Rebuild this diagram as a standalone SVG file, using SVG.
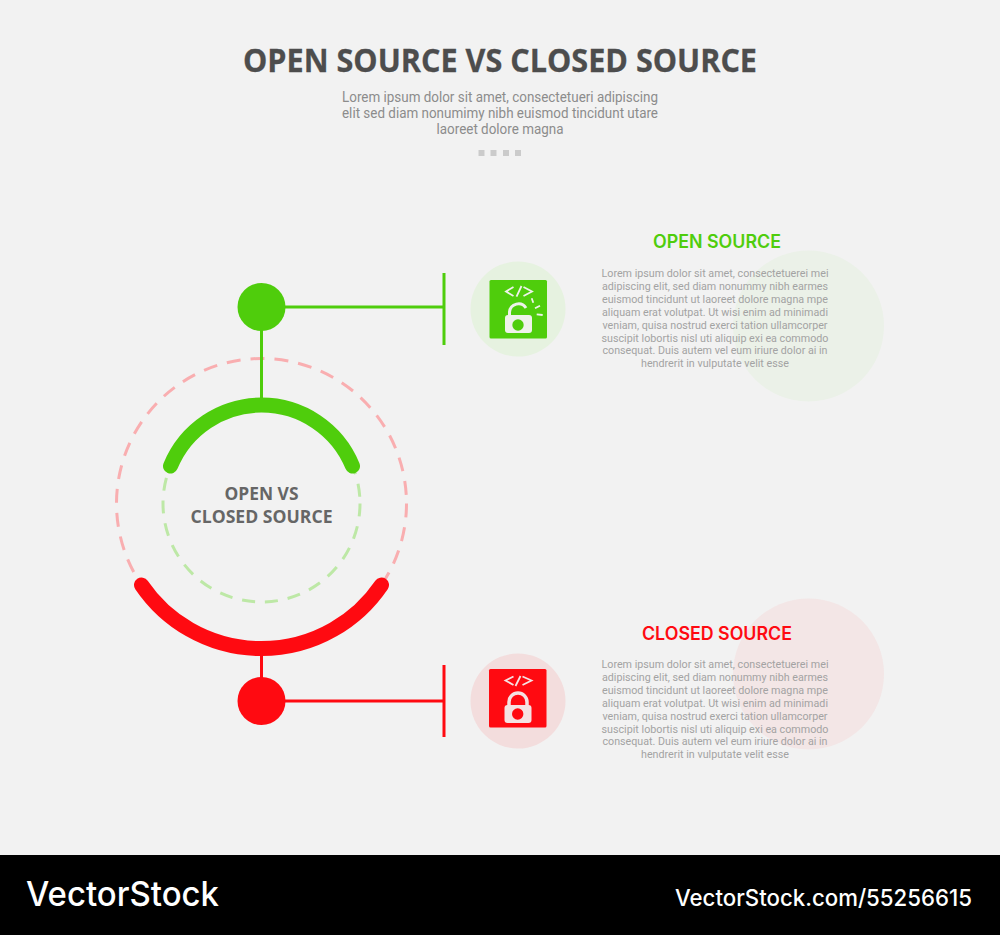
<svg xmlns="http://www.w3.org/2000/svg" width="1000" height="935" viewBox="0 0 1000 935">
<style>
.title{font-family:"Open Sans","Liberation Sans",sans-serif;font-weight:700;text-anchor:middle}
.body{font-family:Roboto,"Liberation Sans",sans-serif;text-anchor:middle}
.sub{font-size:14px;fill:#8c8c8c}
.para{font-size:10.6px;fill:#a3a3a3}
.head{font-family:Inter,"Open Sans",sans-serif;font-weight:600;font-size:18px;text-anchor:middle}
.center{font-size:17.5px;fill:#666}
.mark{fill:none;stroke-linecap:round}
.g{fill:#4fcd0c}.r{fill:#ff0a11}
.gs{stroke:#4fcd0c}.rs{stroke:#ff0a11}
.foot{font-family:Inter,"Liberation Sans",sans-serif;font-weight:500;fill:#fff}
</style>
<rect width="1000" height="935" fill="#f2f2f2"/>
<g id="header">
<text class="title" x="500" y="72" font-size="33" fill="#4d4d4d" stroke="#4d4d4d" stroke-width="0.3" textLength="514" lengthAdjust="spacingAndGlyphs">OPEN SOURCE VS CLOSED SOURCE</text>
<text class="body sub" x="500" y="102" textLength="316" lengthAdjust="spacingAndGlyphs">Lorem ipsum dolor sit amet, consectetueri adipiscing</text>
<text class="body sub" x="500" y="118" textLength="316" lengthAdjust="spacingAndGlyphs">elit sed diam nonumimy nibh euismod tincidunt utare</text>
<text class="body sub" x="500" y="134" textLength="127" lengthAdjust="spacingAndGlyphs">laoreet dolore magna</text>
<g fill="#cbcbcb"><rect x="478.500" y="150" width="6" height="6"/><rect x="490.500" y="150" width="6" height="6"/><rect x="503" y="150" width="6" height="6"/><rect x="515" y="150" width="6" height="6"/></g>
</g>
<g id="rings">
<circle cx="261.500" cy="503.500" r="145" fill="none" stroke="#f9aeb0" stroke-width="3" stroke-dasharray="14 10"/>
<circle cx="261.500" cy="503.500" r="98.500" fill="none" stroke="#bde8a6" stroke-width="3" stroke-dasharray="13 10"/>
</g>
<g id="connectors" fill="none" stroke-width="3">
<path class="gs" d="M261.500 307V400M261.500 307H444M444 273V345"/>
<path class="rs" d="M261.500 650V701M261.500 701H444M444 665V737"/>
</g>
<g id="arc-open"><path class="mark gs" stroke-width="15" d="M170.500 466A98.400 98.400 0 0 1 352.500 466"/></g>
<g id="arc-closed"><path class="mark rs" stroke-width="15" d="M141.500 585A145 145 0 0 0 381.500 585"/></g>
<g id="center-label">
<text class="title center" x="261.500" y="500" textLength="74" lengthAdjust="spacingAndGlyphs">OPEN VS</text>
<text class="title center" x="261.500" y="523" textLength="142" lengthAdjust="spacingAndGlyphs">CLOSED SOURCE</text>
</g>
<g id="dot-open"><circle class="g" cx="261.500" cy="307" r="24"/></g>
<g id="dot-closed"><circle class="r" cx="261.500" cy="701" r="24"/></g>
<g id="icon-open">
<circle cx="518" cy="309" r="47.500" fill="#e6f2e0"/>
<rect class="g" x="489.500" y="280" width="57.500" height="58.500" rx="1.500"/>
<g fill="none" stroke="#eef2ea" stroke-width="1.800"><path d="M513.500 287L506 291.500L513.500 296M523.500 287L532 291.500L523.500 296M521.500 286L516.500 296.700"/>
<path stroke-width="3" d="M509.500 316V312A9 9 0 0 1 526 308"/>
<path d="M531.700 298.300L533.300 302.700M535 308.300L540 305.700M536.700 314.300L542.700 315"/></g>
<rect x="505" y="315" width="27" height="18" rx="3" fill="#eef2ea"/><circle class="g" cx="518" cy="325" r="5.700"/>
</g>
<g id="icon-closed">
<circle cx="518" cy="701" r="47.500" fill="#f3dddd"/>
<rect class="r" x="489" y="669" width="57.500" height="58.500" rx="1.500"/>
<g fill="none" stroke="#f5e2e2" stroke-width="1.800"><path d="M513.500 676.500L505.500 680.500L513.500 685M522.500 676.500L531.500 680.500L522.500 685M520.500 676L515.500 686"/>
<path stroke-width="3.500" d="M509 708V702A9 9 0 0 1 527 702V708"/></g>
<rect x="504.500" y="705" width="27" height="18" rx="3" fill="#f5e2e2"/><circle class="r" cx="517.700" cy="714" r="5.700"/>
</g>
<g id="text-open">
<circle cx="808.500" cy="326" r="75.500" fill="#ebf1e8"/>
<text class="head" x="717" y="247.500" fill="#4fcd0c" textLength="128" lengthAdjust="spacingAndGlyphs">OPEN SOURCE</text>
<g>
<text class="body para" x="715" y="276.500" textLength="227" lengthAdjust="spacingAndGlyphs">Lorem ipsum dolor sit amet, consectetuerei mei</text>
<text class="body para" x="715" y="289.500" textLength="226" lengthAdjust="spacingAndGlyphs">adipiscing elit, sed diam nonummy nibh earmes</text>
<text class="body para" x="715" y="302.500" textLength="226" lengthAdjust="spacingAndGlyphs">euismod tincidunt ut laoreet dolore magna mpe</text>
<text class="body para" x="715" y="315.500" textLength="226" lengthAdjust="spacingAndGlyphs">aliquam erat volutpat. Ut wisi enim ad minimadi</text>
<text class="body para" x="715" y="328.500" textLength="225" lengthAdjust="spacingAndGlyphs">veniam, quisa nostrud exerci tation ullamcorper</text>
<text class="body para" x="715" y="341.500" textLength="227" lengthAdjust="spacingAndGlyphs">suscipit lobortis nisl uti aliquip exi ea commodo</text>
<text class="body para" x="715" y="354" textLength="225" lengthAdjust="spacingAndGlyphs">consequat. Duis autem vel eum iriure dolor ai in</text>
<text class="body para" x="715" y="367" textLength="148" lengthAdjust="spacingAndGlyphs">hendrerit in vulputate velit esse</text>
</g>
</g>
<g id="text-closed">
<circle cx="808.500" cy="674" r="75.500" fill="#f3e6e6"/>
<text class="head" x="717" y="639.500" fill="#ff0a11" textLength="150" lengthAdjust="spacingAndGlyphs">CLOSED SOURCE</text>
<g>
<text class="body para" x="715" y="668" textLength="227" lengthAdjust="spacingAndGlyphs">Lorem ipsum dolor sit amet, consectetuerei mei</text>
<text class="body para" x="715" y="681" textLength="226" lengthAdjust="spacingAndGlyphs">adipiscing elit, sed diam nonummy nibh earmes</text>
<text class="body para" x="715" y="693.500" textLength="226" lengthAdjust="spacingAndGlyphs">euismod tincidunt ut laoreet dolore magna mpe</text>
<text class="body para" x="715" y="706.500" textLength="226" lengthAdjust="spacingAndGlyphs">aliquam erat volutpat. Ut wisi enim ad minimadi</text>
<text class="body para" x="715" y="719.500" textLength="225" lengthAdjust="spacingAndGlyphs">veniam, quisa nostrud exerci tation ullamcorper</text>
<text class="body para" x="715" y="732.500" textLength="227" lengthAdjust="spacingAndGlyphs">suscipit lobortis nisl uti aliquip exi ea commodo</text>
<text class="body para" x="715" y="745" textLength="225" lengthAdjust="spacingAndGlyphs">consequat. Duis autem vel eum iriure dolor ai in</text>
<text class="body para" x="715" y="758" textLength="148" lengthAdjust="spacingAndGlyphs">hendrerit in vulputate velit esse</text>
</g>
</g>
<g id="footer">
<rect y="855" width="1000" height="80" fill="#000"/>
<text class="foot" x="26" y="906" font-size="34" textLength="193" lengthAdjust="spacingAndGlyphs">VectorStock</text>
<text class="foot" x="675" y="906" font-size="23" textLength="297" lengthAdjust="spacingAndGlyphs">VectorStock.com/55256615</text>
</g>
</svg>
